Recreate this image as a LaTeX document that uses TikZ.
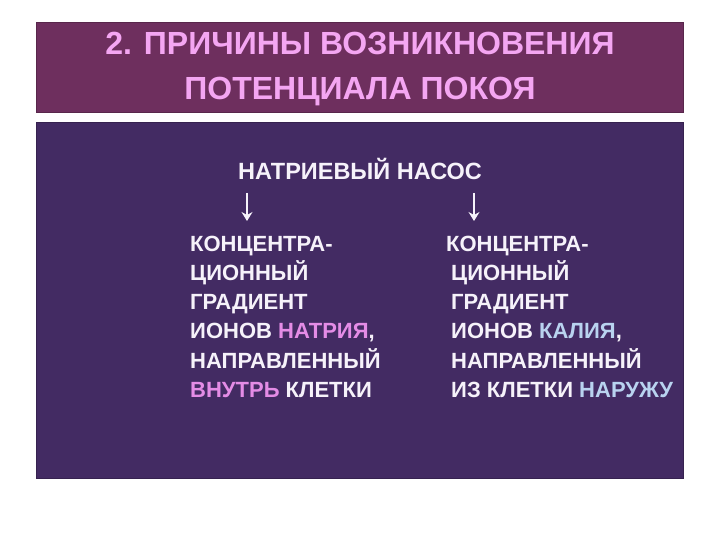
\documentclass[tikz,border=0pt]{standalone}
\usepackage{fontspec}
\setmainfont{Liberation Sans}
\usetikzlibrary{arrows.meta}

\definecolor{titlebg}{HTML}{6E2F5E}
\definecolor{mainbg}{HTML}{432B63}
\definecolor{titletext}{HTML}{F4A6F2}
\definecolor{natrium}{HTML}{E48CE6}
\definecolor{kalium}{HTML}{B9D3F0}
\definecolor{bodytext}{HTML}{F6F2FA}

\begin{document}
\begin{tikzpicture}[x=1pt, y=-1pt,
  every node/.style={inner sep=0pt},
  panel/.style={draw=#1!80!black, fill=#1, line width=0.8pt},
  body/.style={text=bodytext, font=\bfseries\fontsize{22}{29.3}\selectfont, align=left},
  pumparrow/.style={-{Stealth[length=9pt, width=11pt, inset=3pt]}, draw=bodytext, line width=2.4pt}]
\useasboundingbox (0,0) rectangle (720,540);
\fill[white] (0,0) rectangle (720,540);

\path[panel=titlebg] (36,22) rectangle (683,112);
\path[panel=mainbg] (36,122) rectangle (683,478);

\node[text=titletext, font=\bfseries\fontsize{32}{45}\selectfont, align=center, anchor=base] (title) at (360,100)
  {2. ПРИЧИНЫ ВОЗНИКНОВЕНИЯ\\ПОТЕНЦИАЛА ПОКОЯ};

\node[text=bodytext, font=\bfseries\fontsize{23.5}{28}\selectfont, anchor=base] (pump) at (360,180) {НАТРИЕВЫЙ НАСОС};

\coordinate (la) at (247,193);
\coordinate (lb) at (247,221);
\coordinate (ra) at (474,193);
\coordinate (rb) at (474,221);
\draw[pumparrow] (la) -- (lb);
\draw[pumparrow] (ra) -- (rb);

\node[body, anchor=base west] (left) at (190,397.5)
  {КОНЦЕНТРА-\\ЦИОННЫЙ\\ГРАДИЕНТ\\ИОНОВ \textcolor{natrium}{НАТРИЯ},\\НАПРАВЛЕННЫЙ\\\textcolor{natrium}{ВНУТРЬ} КЛЕТКИ};
\node[body, anchor=base west] (right) at (451,397.5)
  {\hspace*{-5pt}КОНЦЕНТРА-\\ЦИОННЫЙ\\ГРАДИЕНТ\\ИОНОВ \textcolor{kalium}{КАЛИЯ},\\НАПРАВЛЕННЫЙ\\ИЗ КЛЕТКИ \textcolor{kalium}{НАРУЖУ}};
\end{tikzpicture}
\end{document}
